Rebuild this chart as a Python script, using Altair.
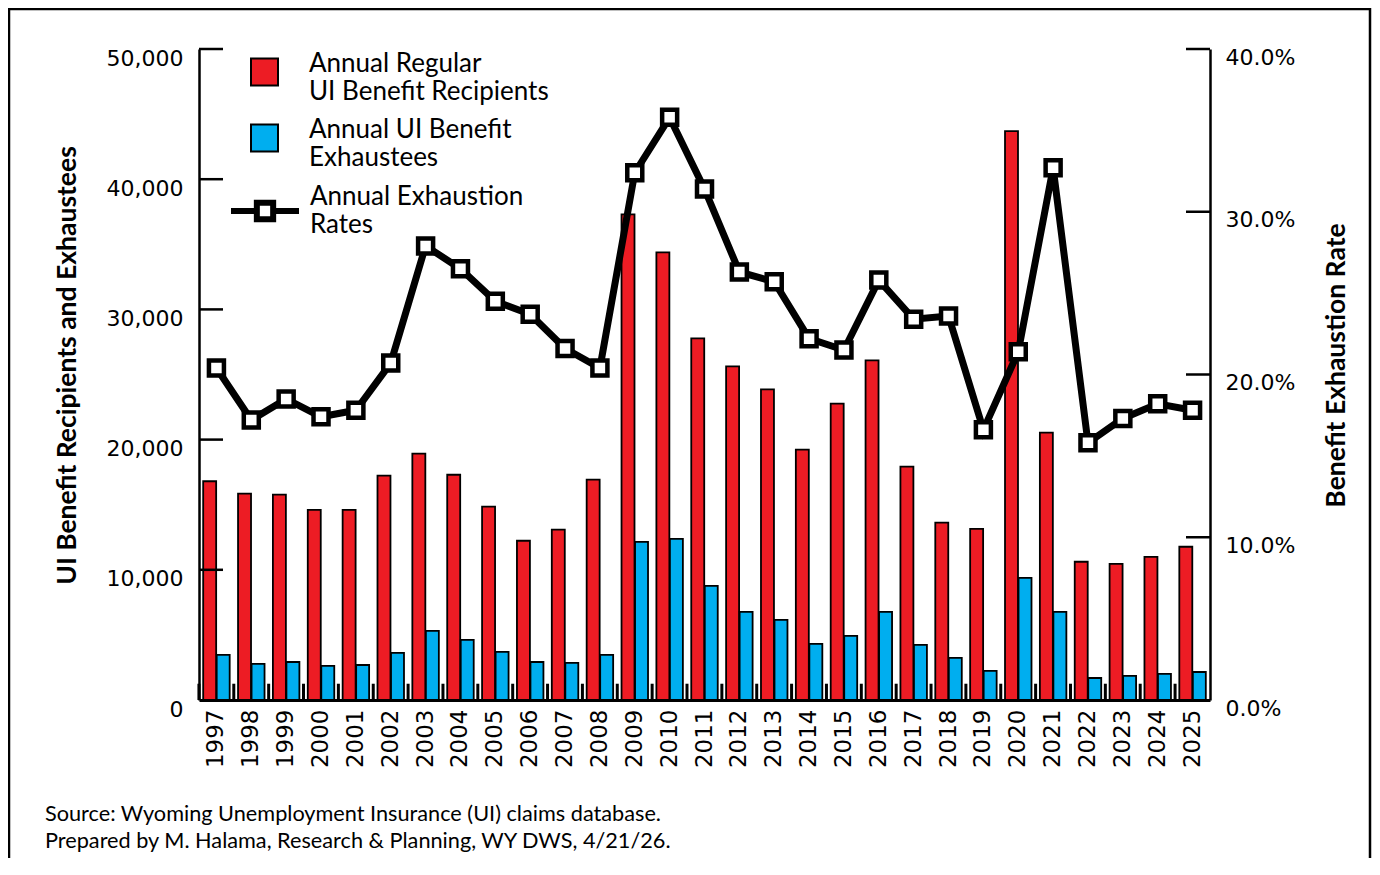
import altair as alt
import pandas as pd

years = ["1997", "1998", "1999", "2000", "2001", "2002", "2003", "2004", "2005", "2006",
         "2007", "2008", "2009", "2010", "2011", "2012", "2013", "2014", "2015", "2016",
         "2017", "2018", "2019", "2020", "2021", "2022", "2023", "2024", "2025"]
recipients = [16800, 15850, 15770, 14600, 14600, 17230, 18920, 17300, 14850, 12230,
              13080, 16920, 37300, 34380, 27770, 25620, 23850, 19230, 22770, 26080,
              17920, 13620, 13150, 43690, 20540, 10620, 10460, 11000, 11770]
exhaustees = [3460, 2770, 2920, 2620, 2690, 3620, 5310, 4620, 3690, 2920,
              2850, 3460, 12150, 12380, 8770, 6770, 6150, 4310, 4920, 6770,
              4230, 3230, 2230, 9380, 6770, 1690, 1850, 2000, 2150]
rates = [0.204, 0.172, 0.185, 0.174, 0.178, 0.207, 0.279, 0.265, 0.245, 0.237,
         0.216, 0.204, 0.324, 0.358, 0.314, 0.263, 0.257, 0.222, 0.215, 0.258,
         0.234, 0.236, 0.166, 0.214, 0.327, 0.158, 0.173, 0.182, 0.178]
stubs = [1250, 1250, 1250, 1250, 1250, 1250, 1250, 1250, 1250, 1250,
         1250, 1250, 1250, 1250, 1250, 1250, 1250, 1250, 1250, 1250,
         1250, 1250, 1250, 1250, 1250, 1250, 1250, 1250, 1250]

series_names = ["Annual Regular|UI Benefit Recipients", "Annual UI Benefit|Exhaustees"]
line_name = "Annual Exhaustion|Rates"
left_ticks = [10000, 20000, 30000, 40000, 50000]
left_labels = [0, 10000, 20000, 30000, 40000, 50000]
right_ticks = [0.1, 0.2, 0.3, 0.4]
right_labels = [0, 0.1, 0.2, 0.3, 0.4]
source_lines = ["Source: Wyoming Unemployment Insurance (UI) claims database.",
                "Prepared by M. Halama, Research & Planning, WY DWS, 4/21/26."]

RED = "#ED1C24"
BLUE = "#00AEEF"
W, H = 1011, 651

bars_df = pd.DataFrame({
    "year": years * 2,
    "series": [series_names[0]] * len(years) + [series_names[1]] * len(years),
    "count": recipients + exhaustees,
})
stub_df = pd.DataFrame({"year": years, "count": stubs})
rate_df = pd.DataFrame({"year": years, "rate": rates, "metric": [line_name] * len(years)})
lt_df = pd.DataFrame({"count": left_ticks})
rt_df = pd.DataFrame({"rate": right_ticks})

x_enc = alt.X("year:O", sort=years,
              scale=alt.Scale(paddingInner=0.24, paddingOuter=0.12),
              axis=alt.Axis(title=None, labelAngle=270, labelFont="DejaVu Sans",
                            labelFontSize=23, labelPadding=9, ticks=False,
                            domainColor="black", domainWidth=3, labelColor="black"))

left_axis = alt.Axis(title="UI Benefit Recipients and Exhaustees", values=left_labels,
                     labelExpr="format(datum.value, ',')", ticks=False, grid=False,
                     labelPadding=16, labelOffset=9,
                     labelFont="DejaVu Sans", labelFontSize=22, labelColor="black",
                     domainColor="black", domainWidth=2.5,
                     titleFont="Lato", titleFontSize=26.5, titleFontWeight="bold",
                     titleColor="black", titleAngle=270, titleAlign="center",
                     titleBaseline="middle", titleX=-132, titleY=316)
right_axis = alt.Axis(title="Benefit Exhaustion Rate", orient="right", values=right_labels,
                      labelExpr="format(datum.value, '.1%')", ticks=False, grid=False,
                      labelPadding=15, labelOffset=8,
                      labelFont="DejaVu Sans", labelFontSize=22, labelColor="black",
                      domainColor="black", domainWidth=2.5,
                      titleFont="Lato", titleFontSize=26.5, titleFontWeight="bold",
                      titleColor="black", titleAngle=270, titleAlign="center",
                      titleBaseline="middle", titleX=126, titleY=316)

fill_legend = alt.Legend(title=None, orient="none", legendX=51, legendY=8.5,
                         direction="vertical", symbolType="square", symbolSize=729,
                         symbolStrokeColor="black", symbolStrokeWidth=2,
                         labelFont="Lato", labelFontSize=26, labelColor="black",
                         labelBaseline="alphabetic",
                         labelLimit=0, labelOffset=30, rowPadding=11,
                         labelExpr="split(datum.label, '|')")
line_legend = alt.Legend(title=None, orient="none", legendX=29, legendY=125,
                         symbolType="M-1,0H-0.24M0.24,0H1M-0.24,-0.24H0.24V0.24H-0.24Z",
                         symbolSize=4624, symbolStrokeWidth=6, symbolFillColor="white",
                         symbolStrokeColor="black",
                         labelFont="Lato", labelFontSize=26, labelColor="black",
                         labelBaseline="line-bottom",
                         labelLimit=0, labelOffset=8,
                         labelExpr="split(datum.label, '|')")

bars = alt.Chart(bars_df).mark_bar(stroke="black", strokeWidth=1.8).encode(
    x=x_enc,
    xOffset=alt.XOffset("series:N", sort=series_names,
                        scale=alt.Scale(domain=series_names, paddingInner=0.04)),
    y=alt.Y("count:Q", scale=alt.Scale(domain=[0, 50000]), axis=left_axis),
    fill=alt.Fill("series:N", sort=series_names,
                  scale=alt.Scale(domain=series_names, range=[RED, BLUE]),
                  legend=fill_legend),
)
stub_bars = alt.Chart(stub_df).mark_bar(width=3, xOffset=-17.5, color="black").encode(
    x=alt.X("year:O", sort=years), y=alt.Y("count:Q"))
lticks = alt.Chart(lt_df).mark_rule(color="black", strokeWidth=2.5).encode(
    y=alt.Y("count:Q"), x=alt.value(0), x2=alt.value(24))

deco = alt.Chart(alt.Data(values=[{"k": 1}]))
border = deco.mark_rect(filled=False, stroke="black", strokeWidth=2.5).encode(
    x=alt.value(-190), x2=alt.value(1171), y=alt.value(-40), y2=alt.value(830))
source = deco.mark_text(align="left", baseline="top", font="Lato", fontSize=21.7,
                        lineHeight=27, color="black").encode(
    x=alt.value(-154), y=alt.value(755), text=alt.value(source_lines))

line = alt.Chart(rate_df).mark_line(strokeWidth=7).encode(
    x=alt.X("year:O", sort=years),
    y=alt.Y("rate:Q", scale=alt.Scale(domain=[0, 0.4]), axis=right_axis),
    stroke=alt.Stroke("metric:N", scale=alt.Scale(domain=[line_name], range=["black"]),
                      legend=line_legend),
)
points = alt.Chart(rate_df).mark_point(shape="square", filled=True, fill="white",
                                       stroke="black", strokeWidth=4.5, size=225,
                                       opacity=1).encode(
    x=alt.X("year:O", sort=years), y=alt.Y("rate:Q"))
rticks = alt.Chart(rt_df).mark_rule(color="black", strokeWidth=2.5).encode(
    y=alt.Y("rate:Q"), x=alt.value(W - 24), x2=alt.value(W))

left = alt.layer(border, bars, stub_bars, lticks, source)
right = alt.layer(line, points, rticks)

chart = alt.layer(left, right).resolve_scale(y="independent").properties(
    width=W, height=H,
    autosize=alt.AutoSizeParams(type="none"),
    padding={"left": 191, "top": 41, "right": 162, "bottom": 158},
).configure_view(stroke=None)

chart.save("out.html", embed_options={"renderer": "svg", "actions": False})
